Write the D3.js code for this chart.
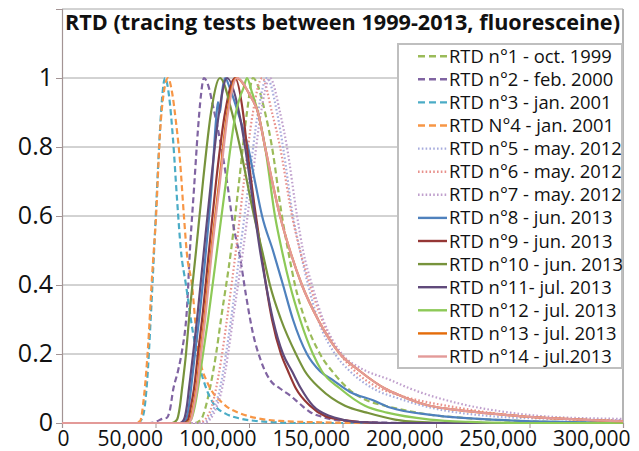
<!DOCTYPE html>
<html>
<head>
<meta charset="utf-8">
<script src="https://cdn.jsdelivr.net/npm/d3@7/dist/d3.min.js"></script>
<style>
  html, body { margin: 0; padding: 0; background: #fff; }
  svg { display: block; }
</style>
</head>
<body>
<svg id="chart" width="639" height="451"></svg>
<script>
// Residence time distributions, normalised to peak = 1, x = time
const titleText = "RTD (tracing tests between 1999-2013, fluoresceine)";

const xTickValues = [0, 50000, 100000, 150000, 200000, 250000, 300000];
const yTickValues = [0, 0.2, 0.4, 0.6, 0.8, 1, 1.2];

const seriesNames = [
  "RTD n°1 - oct. 1999",
  "RTD n°2 - feb. 2000",
  "RTD n°3 - jan. 2001",
  "RTD N°4 - jan. 2001",
  "RTD n°5 - may. 2012",
  "RTD n°6 - may. 2012",
  "RTD n°7 - may. 2012",
  "RTD n°8 - jun. 2013",
  "RTD n°9 - jun. 2013",
  "RTD n°10 - jun. 2013",
  "RTD n°11- jul. 2013",
  "RTD n°12 - jul. 2013",
  "RTD n°13 - jul. 2013",
  "RTD n°14 - jul.2013"
];

const rtd1 = [[0,0],[71100,0],[74300,0.01],[77000,0.05],[79100,0.1],[82400,0.2],[85000,0.3],[90400,0.5],[94700,0.7],[98900,0.9],[102100,1],[108600,0.9],[112300,0.8],[117600,0.6],[120900,0.5],[124600,0.4],[129900,0.3],[138000,0.2],[146000,0.14],[154000,0.095],[162000,0.068],[172700,0.05],[180700,0.04],[196800,0.024],[216600,0.014],[244900,0.006],[277000,0.002],[300000,0.001]];
const rtd2 = [[0,0],[47100,0],[50800,0.005],[53500,0.012],[56100,0.015],[57800,0.04],[59400,0.095],[62000,0.15],[64200,0.21],[66800,0.33],[68400,0.5],[70600,0.68],[72700,0.85],[74300,0.95],[75900,1],[78100,0.98],[80700,0.92],[84500,0.82],[88200,0.7],[91400,0.58],[95200,0.48],[98400,0.37],[102100,0.26],[106400,0.18],[111200,0.125],[116600,0.1],[121900,0.08],[127300,0.055],[132600,0.032],[139600,0.017],[148700,0.007],[166300,0.002],[191400,0],[300000,0]];
const rtd3 = [[0,0],[40600,0],[43300,0.02],[45500,0.12],[47600,0.32],[49700,0.55],[51900,0.8],[53500,0.94],[55100,1],[57200,0.95],[59400,0.82],[61500,0.65],[63600,0.5],[66300,0.4],[70100,0.26],[73800,0.16],[77500,0.095],[81800,0.05],[87200,0.028],[95200,0.013],[105900,0.005],[127300,0],[300000,0]];
const rtd4 = [[0,0],[39000,0],[41700,0.005],[43900,0.08],[46000,0.22],[48100,0.42],[50300,0.6],[52400,0.84],[54500,0.96],[56700,1],[58800,0.96],[61000,0.87],[63100,0.76],[65200,0.6],[66800,0.49],[69500,0.4],[72200,0.24],[74300,0.17],[77500,0.12],[80700,0.088],[84500,0.065],[88200,0.047],[95200,0.028],[104300,0.014],[116600,0.006],[138000,0.002],[159400,0],[300000,0]];
const rtd5 = [[0,0],[74900,0],[78100,0.01],[81800,0.05],[84500,0.1],[87700,0.2],[90400,0.3],[95200,0.5],[100000,0.7],[104800,0.9],[109600,1],[115000,0.9],[118200,0.8],[123500,0.6],[127300,0.5],[131600,0.4],[136900,0.3],[146000,0.2],[154000,0.15],[166300,0.1],[180700,0.07],[196800,0.045],[228900,0.02],[261000,0.012],[300000,0.008]];
const rtd6 = [[0,0],[72700,0],[76500,0.01],[80200,0.05],[82400,0.1],[85600,0.2],[88200,0.3],[93000,0.5],[97300,0.7],[102100,0.9],[107000,1],[112300,0.9],[116600,0.8],[123000,0.6],[127300,0.5],[132600,0.4],[139000,0.3],[148700,0.2],[156700,0.15],[170100,0.1],[180700,0.08],[211200,0.045],[244900,0.02],[266300,0.012],[300000,0.006]];
const rtd7 = [[0,0],[75900,0],[79100,0.01],[82900,0.05],[85600,0.1],[88800,0.2],[91400,0.3],[96800,0.5],[101600,0.7],[106400,0.9],[111200,1],[116600,0.9],[120300,0.8],[125700,0.6],[128900,0.5],[133700,0.4],[139600,0.3],[149700,0.2],[159400,0.16],[175400,0.125],[186100,0.1],[211200,0.058],[239600,0.03],[264700,0.017],[300000,0.012]];
const rtd8 = [[0,0],[64200,0],[66300,0.01],[67900,0.05],[69000,0.1],[71100,0.2],[73300,0.3],[77000,0.5],[80200,0.7],[82400,0.88],[83400,0.93],[84500,0.9],[85600,0.96],[87200,1],[89800,0.97],[94100,0.9],[99500,0.8],[103200,0.7],[107000,0.6],[112800,0.5],[118200,0.4],[123500,0.3],[131000,0.2],[138000,0.15],[144900,0.124],[154000,0.09],[166300,0.066],[175400,0.045],[198400,0.023],[234200,0.009],[266300,0.003],[300000,0.001]];
const rtd9 = [[0,0],[65200,0],[67400,0.01],[69000,0.05],[70600,0.1],[72700,0.2],[74900,0.3],[78600,0.5],[82400,0.7],[87200,0.9],[92500,1],[96800,0.9],[98900,0.8],[103700,0.6],[106400,0.5],[109100,0.4],[112300,0.3],[117100,0.2],[120900,0.15],[125100,0.1],[132600,0.05],[140600,0.02],[148700,0.01],[170100,0],[300000,0]];
const rtd10 = [[0,0],[58800,0],[61500,0.01],[63100,0.05],[64200,0.1],[66300,0.2],[67900,0.3],[71700,0.5],[75400,0.7],[79700,0.9],[84500,1],[90900,0.9],[95200,0.8],[102700,0.6],[107000,0.5],[111200,0.4],[117100,0.3],[125100,0.2],[129900,0.15],[138000,0.1],[151300,0.05],[163100,0.03],[178100,0.01],[189800,0.003],[207500,0],[300000,0]];
const rtd11 = [[0,0],[63100,0],[65200,0.01],[66800,0.05],[67900,0.1],[70100,0.2],[72200,0.3],[75900,0.5],[79700,0.7],[84000,0.9],[88200,1],[94700,0.9],[97900,0.8],[103200,0.6],[105900,0.5],[109100,0.4],[112800,0.3],[118200,0.2],[123000,0.15],[127800,0.1],[134200,0.05],[143300,0.02],[149700,0.01],[156700,0.003],[175400,0],[300000,0]];
const rtd12 = [[0,0],[66300,0],[69000,0.01],[71100,0.05],[72700,0.1],[75400,0.2],[78100,0.3],[82900,0.5],[87700,0.7],[93000,0.9],[95500,0.95],[97000,0.97],[98900,1],[101500,0.96],[104800,0.9],[108600,0.8],[113900,0.6],[117600,0.5],[121900,0.4],[127300,0.3],[134200,0.2],[139000,0.15],[148700,0.1],[162000,0.05],[173800,0.03],[196800,0.01],[218200,0.003],[244900,0],[300000,0]];
const rtd13 = [[0,0],[67000,0],[68600,0.01],[70200,0.05],[71800,0.1],[73900,0.2],[76100,0.3],[79800,0.5],[84100,0.7],[88400,0.9],[93200,1],[100500,0.95],[104800,0.9],[108600,0.8],[116600,0.6],[121900,0.5],[128300,0.4],[136900,0.3],[148700,0.2],[159400,0.15],[172700,0.1],[180700,0.08],[196800,0.05],[211200,0.038],[234200,0.025],[251900,0.017],[277000,0.01],[300000,0.005]];
const rtd14 = [[0,0],[67400,0],[69000,0.01],[70600,0.05],[72200,0.1],[74300,0.2],[76500,0.3],[80200,0.5],[84500,0.7],[88800,0.9],[93600,1],[100500,0.95],[104800,0.9],[108600,0.8],[116600,0.6],[121900,0.5],[128300,0.4],[136900,0.3],[148700,0.2],[159400,0.15],[172700,0.1],[180700,0.08],[196800,0.05],[211200,0.038],[234200,0.025],[251900,0.017],[277000,0.01],[300000,0.005]];

const seriesData = [rtd1, rtd2, rtd3, rtd4, rtd5, rtd6, rtd7, rtd8, rtd9, rtd10, rtd11, rtd12, rtd13, rtd14];

// line styling per series
const seriesColors = ["#9BBB59", "#8064A2", "#4BACC6", "#F79646", "#A7ACDD", "#E8918C", "#C0A0CD",
                      "#4F81BD", "#953735", "#77933C", "#604A7B", "#8DC957", "#E46C0A", "#E39A98"];
const seriesKinds = ["dash", "dash", "dash", "dash", "dot", "dot", "dot",
                     "solid", "solid", "solid", "solid", "solid", "solid", "solid"];

const svg = d3.select("#chart");
const W = 639, H = 451;
const plot = { left: 62, right: 623, top: 9, bottom: 423 };

const x = d3.scaleLinear().domain([0, 300000]).range([plot.left, plot.right]);
const y = d3.scaleLinear().domain([0, 1.2]).range([plot.bottom, plot.top]);

svg.append("rect").attr("width", W).attr("height", H).attr("fill", "#fff");

// horizontal gridlines
svg.append("g")
  .selectAll("line")
  .data(yTickValues.filter(v => v > 0))
  .join("line")
  .attr("x1", plot.left).attr("x2", plot.right)
  .attr("y1", d => y(d)).attr("y2", d => y(d))
  .attr("stroke", "#a6a6a6").attr("stroke-width", 1);

// right border of plot area
svg.append("line")
  .attr("x1", plot.right).attr("x2", plot.right)
  .attr("y1", plot.top).attr("y2", plot.bottom)
  .attr("stroke", "#b4b4b4").attr("stroke-width", 2);

// y axis
const yAxis = d3.axisLeft(y)
  .tickValues(yTickValues)
  .tickSize(6)
  .tickPadding(3)
  .tickFormat(d => d === 1.2 ? "" : d3.format("~g")(d));

const gy = svg.append("g")
  .attr("transform", `translate(${plot.left},0)`)
  .call(yAxis);
gy.select(".domain").attr("stroke", "#a39494").attr("stroke-width", 1.2);
gy.selectAll(".tick line").attr("stroke", "#a39494");
gy.selectAll(".tick text")
  .attr("font-family", "'Open Sans', sans-serif")
  .attr("font-size", 25)
  .attr("fill", "#111")
  .attr("dy", "0.3em");

// x axis
const xAxis = d3.axisBottom(x)
  .tickValues(xTickValues)
  .tickSize(5)
  .tickFormat(d3.format(","));

const gx = svg.append("g")
  .attr("transform", `translate(0,${plot.bottom})`)
  .call(xAxis);
gx.select(".domain").attr("stroke", "#a39494").attr("stroke-width", 1.2);
gx.selectAll(".tick line").attr("stroke", "#a39494");
gx.selectAll(".tick text")
  .attr("font-family", "'Open Sans', sans-serif")
  .attr("font-size", 21)
  .attr("fill", "#111")
  .attr("text-anchor", "end")
  .attr("x", 7)
  .attr("y", 22.5)
  .attr("dy", 0);

// curves
const line = d3.line()
  .x(d => x(d[0]))
  .y(d => y(d[1]))
  .curve(d3.curveMonotoneX);

function dashFor(kind) {
  if (kind === "dash") return "6,3.5";
  if (kind === "dot") return "1.6,2.2";
  return null;
}

svg.append("g")
  .selectAll("path")
  .data(seriesData)
  .join("path")
  .attr("d", d => line(d))
  .attr("fill", "none")
  .attr("stroke", (d, i) => seriesColors[i])
  .attr("stroke-width", 2.2)
  .attr("stroke-dasharray", (d, i) => dashFor(seriesKinds[i]))
  .attr("stroke-linejoin", "round");

// title
svg.append("text")
  .attr("x", 65)
  .attr("y", 30)
  .attr("font-family", "'Open Sans', sans-serif")
  .attr("font-weight", "bold")
  .attr("font-size", 22)
  .attr("fill", "#111")
  .attr("textLength", 555)
  .attr("lengthAdjust", "spacingAndGlyphs")
  .text(titleText);

// legend
const legend = svg.append("g");
legend.append("rect")
  .attr("x", 398).attr("y", 44)
  .attr("width", 224).attr("height", 324)
  .attr("fill", "#fff")
  .attr("stroke", "#bfbfbf").attr("stroke-width", 2);

const rowStep = 23.1, firstBase = 62.7;
const rows = legend.selectAll("g.row")
  .data(seriesNames)
  .join("g")
  .attr("class", "row")
  .attr("transform", (d, i) => `translate(0,${firstBase + i * rowStep})`);

rows.append("line")
  .attr("x1", 418).attr("x2", 447)
  .attr("y1", -6.5).attr("y2", -6.5)
  .attr("stroke", (d, i) => seriesColors[i])
  .attr("stroke-width", 2.4)
  .attr("stroke-dasharray", (d, i) => seriesKinds[i] === "dash" ? "7,4" : (seriesKinds[i] === "dot" ? "1.6,2.2" : null));

rows.append("text")
  .attr("x", 449)
  .attr("y", 0)
  .attr("font-family", "'Open Sans', sans-serif")
  .attr("font-size", 18.4)
  .attr("fill", "#111")
  .text(d => d);
</script>
</body>
</html>
